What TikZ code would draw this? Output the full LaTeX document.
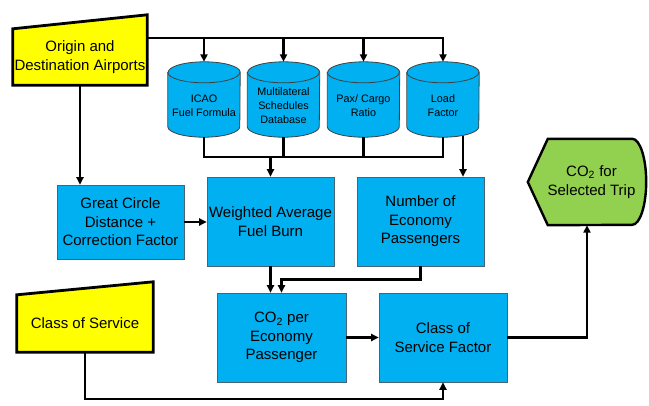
\documentclass[tikz,border=0pt]{standalone}
\usepackage{fontspec}
\setmainfont{Liberation Sans}
\usetikzlibrary{arrows.meta,calc,backgrounds}
\definecolor{boxblue}{RGB}{0,176,240}
\definecolor{inyellow}{RGB}{255,255,0}
\definecolor{outgreen}{RGB}{146,208,80}
\definecolor{boxedge}{RGB}{70,100,120}
\begin{document}
\begin{tikzpicture}[x=1pt,y=-1pt,
  font=\fontsize{15}{18.5}\selectfont,
  proc/.style={rectangle, fill=boxblue, draw=boxedge, line width=0.6pt, align=center, inner sep=0pt},
  ghost/.style={rectangle, inner sep=0pt, align=center},
  cyltext/.style={inner sep=0pt, align=center, font=\fontsize{10.8}{14}\selectfont},
  conn/.style={line width=2.5pt, -{Triangle[length=7.5pt,width=7pt]}},
  plain/.style={line width=2.5pt},
  cylshape/.style={fill=boxblue, draw=black!75, line width=0.8pt},
  inshape/.style={fill=inyellow, draw=black, line width=2.8pt, line join=miter},
  outshape/.style={fill=outgreen, draw=black, line width=2.4pt, line join=miter}]
\useasboundingbox (0,0) rectangle (649,405);

% input shapes
\node[ghost, minimum width=134pt, minimum height=56pt] (orig) at (80,57) {};
\node[ghost, minimum width=136pt, minimum height=57pt] (cos) at (85,323.5) {};
\node[ghost, minimum width=118pt, minimum height=86pt] (co2t) at (587,182) {};

% cylinders
\node[ghost, minimum width=72pt, minimum height=75pt] (icao) at (204,99.5) {};
\node[ghost, minimum width=72pt, minimum height=75pt] (msd) at (283.5,99.5) {};
\node[ghost, minimum width=72pt, minimum height=75pt] (pax) at (363.5,99.5) {};
\node[ghost, minimum width=72pt, minimum height=75pt] (load) at (443,99.5) {};

\begin{pgfonlayer}{background}
  \path[inshape] (orig.north west) -- ([yshift=14pt]orig.north east) -- (orig.south east) -- (orig.south west) -- cycle;
  \path[inshape] (cos.north west) -- ([yshift=13pt]cos.north east) -- (cos.south east) -- (cos.south west) -- cycle;
  \path[outshape] (co2t.west) -- ([xshift=20pt]co2t.north west) -- ([xshift=-14pt]co2t.north east)
     arc[start angle=90,end angle=-90,x radius=14pt,y radius=43pt] -- ([xshift=20pt]co2t.south west) -- cycle;
  \foreach \n in {icao,msd,pax,load} {
    \path[cylshape] ([yshift=-10.5pt]\n.north west) -- ([yshift=10.5pt]\n.south west)
      arc[start angle=180,end angle=360,x radius=36pt,y radius=10.5pt]
      -- ([yshift=-10.5pt]\n.north east)
      arc[start angle=0,end angle=180,x radius=36pt,y radius=10.5pt] -- cycle;
    \draw[draw=black!75, line width=0.8pt] ([yshift=-10.5pt]\n.north west)
      arc[start angle=180,end angle=360,x radius=36pt,y radius=10.5pt];
  }
\end{pgfonlayer}

\node[ghost] (orig-t) at (orig) {Origin and\\Destination Airports};
\node[ghost] (cos-t) at (cos) {Class of Service};
\node[ghost] (co2t-t) at ([xshift=4.5pt]co2t.center) {CO\textsubscript{2} for\\Selected Trip};

\node[cyltext] (icao-t) at ([yshift=-6pt]icao.center) {ICAO\\Fuel Formula};
\node[cyltext] (msd-t) at ([yshift=-6pt]msd.center) {Multilateral\\Schedules\\Database};
\node[cyltext] (pax-t) at ([yshift=-6pt]pax.center) {Pax/ Cargo\\Ratio};
\node[cyltext] (load-t) at ([yshift=-6pt]load.center) {Load\\Factor};

% process boxes
\node[proc, minimum width=127pt, minimum height=74pt] (gc) at (120.5,222) {Great Circle\\Distance +\\Correction Factor};
\node[proc, minimum width=127pt, minimum height=89pt] (wafb) at (270.5,221.5) {Weighted Average\\Fuel Burn};
\node[proc, minimum width=127pt, minimum height=89pt] (nep) at (420.5,221.5) {Number of\\Economy\\Passengers};
\node[proc, minimum width=129pt, minimum height=89pt] (co2p) at (281.5,337.5) {CO\textsubscript{2} per\\Economy\\Passenger};
\node[proc, minimum width=128pt, minimum height=89pt] (csf) at (443,337.5) {Class of\\Service Factor};

% connectors
\coordinate (trunk) at ([yshift=19pt]orig.east);
\draw[conn] (trunk) -| (load.north);
\foreach \n in {icao,msd,pax} \draw[conn] (\n.north |- trunk) -- (\n.north);

\coordinate (busl) at ([yshift=-20pt]icao.south);
\draw[plain] (icao.south) -- (busl) -| (load.south);
\draw[plain] (msd.south) -- (msd.south |- busl);
\draw[plain] (pax.south) -- (pax.south |- busl);
\draw[conn] (wafb.north |- busl) -- (wafb.north);
\draw[conn] ([xshift=20pt,yshift=1.5pt]load.south) -- ([xshift=20pt]load.south |- nep.north);

\draw[conn] (orig.south) -- (orig.south |- gc.north);
\draw[conn] (gc.east) -- (gc.east -| wafb.west);
\draw[conn] (wafb.south) -- (wafb.south |- co2p.north);
\draw[conn] (nep.south) -- ++(0,13) -| (co2p.north);
\draw[conn] (co2p.east) -- (co2p.east -| csf.west);
\draw[conn] (cos.south) -- ++(0,47) -| (csf.south);
\draw[conn] (csf.east) -| (co2t.south);
\end{tikzpicture}
\end{document}
